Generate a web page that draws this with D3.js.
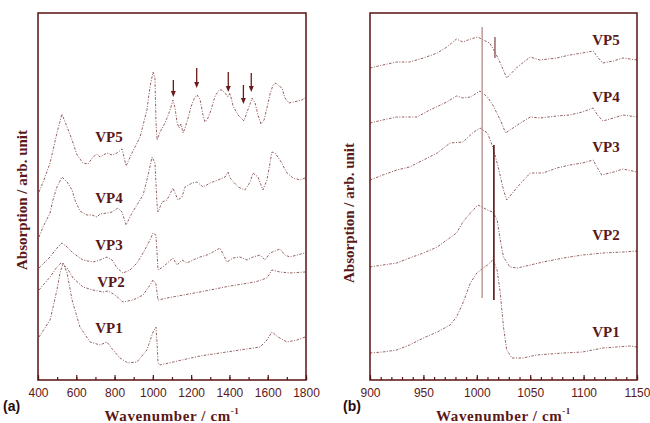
<!DOCTYPE html>
<html><head><meta charset="utf-8">
<script src="https://cdn.jsdelivr.net/npm/d3@7"></script>
<style>
html,body{margin:0;padding:0;background:#fff;}
svg{display:block;}
</style>
</head><body>
<svg id="chart" width="650" height="423"></svg>
<script>
// ---------- DATA ----------
const seriesNames = ["VP1", "VP2", "VP3", "VP4", "VP5"];

// Panel (a): [wavenumber, absorption (arb.)]
const aVP5 = [[405,18.8],[431,20.0],[463,21.7],[499,24.7],[525,26.6],[552,25.3],[578,24.0],[604,22.5],[635,21.7],[661,21.6],[687,22.3],[708,22.6],[724,22.3],[760,22.7],[787,22.5],[813,22.7],[839,23.1],[860,21.4],[891,22.7],[933,24.3],[969,27.0],[985,29.3],[1001,30.8],[1011,30.2],[1016,26.0],[1022,24.0],[1037,24.8],[1053,25.3],[1074,26.2],[1090,27.0],[1105,28.0],[1116,27.2],[1126,25.8],[1137,25.2],[1147,25.6],[1158,24.7],[1168,25.2],[1184,26.2],[1199,27.3],[1215,28.1],[1231,28.5],[1246,28.1],[1262,26.5],[1272,25.8],[1288,26.2],[1304,27.0],[1325,28.4],[1346,29.0],[1361,29.0],[1377,28.7],[1393,28.3],[1403,28.7],[1419,27.4],[1445,26.5],[1466,26.1],[1476,25.9],[1492,26.8],[1508,27.6],[1518,28.2],[1534,27.7],[1549,26.5],[1565,25.6],[1581,26.0],[1596,27.2],[1612,28.6],[1628,29.5],[1643,29.7],[1659,29.4],[1675,29.2],[1690,28.2],[1711,27.7],[1732,27.8],[1758,27.9],[1779,28.0],[1800,28.3]];
const aVP4 = [[405,14.3],[426,15.3],[463,16.7],[478,18.0],[499,19.3],[525,20.3],[552,19.8],[578,19.0],[593,18.0],[619,16.9],[656,16.5],[682,16.5],[708,16.3],[724,16.6],[760,16.7],[787,16.8],[818,17.2],[839,16.8],[860,15.5],[891,16.7],[917,17.5],[949,18.5],[969,20.0],[996,22.3],[1011,21.7],[1022,17.5],[1027,16.8],[1048,17.8],[1074,18.0],[1105,19.2],[1116,18.7],[1131,18.0],[1152,18.3],[1168,19.3],[1205,19.7],[1231,19.8],[1262,19.3],[1299,19.7],[1340,20.0],[1377,20.3],[1393,20.8],[1403,20.2],[1445,19.3],[1481,19.0],[1508,19.8],[1523,20.7],[1549,20.3],[1575,19.0],[1596,20.0],[1622,22.8],[1638,22.7],[1664,22.0],[1701,20.7],[1732,20.2],[1769,20.0],[1795,20.2]];
const aVP3 = [[405,11.2],[463,12.3],[499,13.2],[525,13.7],[552,13.3],[583,12.7],[635,12.0],[687,11.8],[724,12.0],[760,12.3],[787,12.0],[813,11.2],[844,10.7],[881,11.0],[917,11.7],[949,12.7],[985,14.0],[1001,14.7],[1016,14.5],[1022,12.7],[1027,11.0],[1053,11.3],[1105,12.2],[1126,11.5],[1152,12.0],[1178,11.7],[1210,12.0],[1246,12.3],[1283,12.5],[1314,12.8],[1351,13.2],[1387,11.8],[1419,12.2],[1455,12.3],[1492,12.0],[1523,12.3],[1560,12.5],[1586,12.0],[1612,12.7],[1664,13.1],[1690,12.5],[1716,12.3],[1753,12.5],[1795,12.7]];
const aVP2 = [[405,9.0],[463,10.3],[499,11.3],[520,11.7],[552,11.2],[583,10.2],[635,9.3],[687,9.0],[740,8.8],[766,8.9],[802,8.5],[844,7.8],[896,8.0],[949,8.5],[985,9.5],[1001,10.0],[1016,9.6],[1027,8.0],[1074,8.2],[1246,8.8],[1403,9.4],[1534,9.8],[1596,10.2],[1622,11.0],[1664,10.8],[1716,10.7],[1795,10.8]];
const aVP1 = [[405,4.3],[463,6.0],[499,9.0],[515,10.7],[531,11.7],[552,10.7],[578,8.0],[619,5.3],[672,3.8],[724,3.5],[760,3.8],[792,3.0],[828,2.2],[870,1.7],[917,1.8],[969,3.0],[1001,4.8],[1016,5.3],[1022,3.7],[1027,1.7],[1037,1.5],[1246,2.4],[1455,3.0],[1560,3.3],[1596,4.0],[1622,4.8],[1654,4.3],[1701,3.8],[1753,4.0],[1795,4.3]];

// Panel (b)
const bVP5 = [[900,31.2],[912,31.5],[925,31.8],[937,31.8],[950,32.2],[963,32.7],[972,33.3],[981,34.1],[987,33.8],[994,34.1],[1001,34.3],[1006,34.0],[1012,33.7],[1017,32.8],[1022,31.7],[1028,30.2],[1038,31.3],[1050,32.3],[1059,32.0],[1075,32.2],[1087,32.5],[1099,32.7],[1109,32.9],[1113,32.3],[1118,31.7],[1128,31.9],[1137,32.2],[1150,32.0]];
const bVP4 = [[900,25.7],[912,26.0],[925,26.3],[944,26.3],[956,27.0],[972,27.8],[981,28.4],[987,28.2],[994,28.3],[1003,28.9],[1010,28.3],[1015,27.5],[1022,26.0],[1027,24.7],[1038,25.5],[1050,26.3],[1059,26.2],[1075,26.4],[1087,26.5],[1099,26.8],[1109,27.2],[1113,26.5],[1118,25.9],[1128,26.2],[1137,26.5],[1150,26.3]];
const bVP3 = [[900,20.0],[912,20.5],[925,21.0],[937,21.3],[950,22.0],[963,22.7],[975,23.7],[987,23.8],[996,24.7],[1003,25.2],[1010,24.7],[1015,23.3],[1020,21.3],[1025,19.0],[1028,18.0],[1038,19.3],[1050,20.7],[1062,20.7],[1075,21.2],[1087,21.5],[1099,21.7],[1109,22.0],[1113,21.2],[1117,20.5],[1128,20.8],[1137,21.1],[1150,20.8]];
const bVP2 = [[900,11.3],[912,11.5],[925,11.7],[937,12.2],[950,12.7],[963,13.3],[972,14.0],[981,14.7],[987,15.8],[994,16.7],[1001,17.5],[1010,17.0],[1015,16.8],[1019,16.0],[1022,14.0],[1025,12.3],[1031,11.3],[1038,11.2],[1050,11.5],[1062,11.8],[1081,12.2],[1099,12.5],[1118,12.7],[1137,12.8],[1150,12.9]];
const bVP1 = [[900,2.7],[912,2.8],[925,3.0],[937,3.5],[950,4.2],[963,4.8],[975,5.5],[981,6.3],[987,7.7],[994,9.7],[1000,10.7],[1006,11.2],[1010,11.5],[1015,12.0],[1019,11.0],[1022,8.7],[1025,5.3],[1028,3.0],[1033,2.2],[1043,2.2],[1056,2.5],[1081,2.7],[1099,2.8],[1118,3.2],[1131,3.3],[1143,3.4],[1150,3.3]];

// label positions (wavenumber, absorption) for the VP names
const aLabels = [["VP5",771,23.8],["VP4",771,17.7],["VP3",771,13.0],["VP2",781,9.3],["VP1",771,4.7]];
const bLabels = [["VP5",1108,33.5],["VP4",1108,27.8],["VP3",1108,22.8],["VP2",1108,14.0],["VP1",1108,4.3]];

// arrows in panel (a): [wavenumber, from, to]
const arrowsA = [[1107,30.0,28.3],[1229,31.2,29.2],[1394,30.8,28.8],[1473,29.5,27.6],[1514,30.7,28.8]];
// marker lines in panel (b): [wavenumber, from, to, kind]
const markersB = [[1005,35.3,8.2,"light"],[1016,23.5,8.0,"dark"],[1017,34.3,32.2,"mid"]];

const ticksA = [400,600,800,1000,1200,1400,1600,1800];
const minorA = d3.range(400,1801,100);
const ticksB = [900,950,1000,1050,1100,1150];
const minorB = d3.range(900,1151,10);

// ---------- DRAW ----------
const svg = d3.select("#chart");
const frameCol = "#5a1212";
const textCol = "#5a1818";
const lineCol = "#94605f";

const panels = [
  {id:"a", x0:38, x1:306, dom:[400,1800], data:[aVP1,aVP2,aVP3,aVP4,aVP5], labels:aLabels, ticks:ticksA, minor:minorA, tag:"(a)", tagX:3, ylabX:24, ylabY:200},
  {id:"b", x0:370, x1:637, dom:[900,1150], data:[bVP1,bVP2,bVP3,bVP4,bVP5], labels:bLabels, ticks:ticksB, minor:minorB, tag:"(b)", tagX:343, ylabX:351, ylabY:213}
];
const yTop = 13, yBot = 380;
const y = d3.scaleLinear().domain([0,36.7]).range([yBot,yTop]);

panels.forEach(p=>{
  const x = d3.scaleLinear().domain(p.dom).range([p.x0,p.x1]);
  p.x = x;
  const g = svg.append("g");
  const clipId = "clip"+p.id;
  svg.append("clipPath").attr("id",clipId).append("rect")
    .attr("x",p.x0).attr("y",yTop).attr("width",p.x1-p.x0).attr("height",yBot-yTop);

  const line = d3.line().x(d=>x(d[0])).y(d=>y(d[1]));
  g.append("g").attr("clip-path",`url(#${clipId})`).selectAll("path").data(p.data).join("path")
    .attr("d",line).attr("fill","none").attr("stroke",lineCol)
    .attr("stroke-width",1).attr("stroke-dasharray","2.5,1.5,1,1.5");

  // minor ticks
  g.append("g").attr("transform",`translate(0,${yBot})`)
    .call(d3.axisBottom(x).tickValues(p.minor).tickSize(-3).tickFormat(""))
    .call(a=>{a.select(".domain").remove(); a.selectAll("line").attr("stroke",frameCol).attr("stroke-width",1.2);});
  // major ticks
  g.append("g").attr("transform",`translate(0,${yBot})`)
    .call(d3.axisBottom(x).tickValues(p.ticks).tickSize(-5).tickPadding(8).tickFormat(d3.format("d")))
    .call(a=>{a.select(".domain").remove();
      a.selectAll("line").attr("stroke",frameCol).attr("stroke-width",1.2);
      a.selectAll("text").attr("fill",textCol).attr("font-family","Liberation Sans, Arial, sans-serif").attr("font-size",12);});

  // frame
  g.append("rect").attr("x",p.x0).attr("y",yTop).attr("width",p.x1-p.x0).attr("height",yBot-yTop)
    .attr("fill","none").attr("stroke",frameCol).attr("stroke-width",1.5);

  // labels VP
  g.selectAll("text.vp").data(p.labels).join("text").attr("class","vp")
    .attr("x",d=>x(d[1])).attr("y",d=>y(d[2])).attr("text-anchor", p.id==="a" ? "middle" : "start")
    .attr("font-family","Liberation Serif, Times New Roman, serif").attr("font-weight","bold")
    .attr("font-size",15).attr("fill",textCol).text(d=>d[0]);

  // axis titles
  g.append("text").attr("x",(p.x0+p.x1)/2).attr("y",421).attr("text-anchor","middle")
    .attr("font-family","Liberation Serif, Times New Roman, serif").attr("font-weight","bold")
    .attr("font-size",15).attr("letter-spacing",0.6).attr("fill",textCol)
    .text("Wavenumber / cm").append("tspan").attr("dy",-7).attr("font-size",9).text("-1");
  g.append("text").attr("transform",`translate(${p.ylabX},${p.ylabY}) rotate(-90)`)
    .attr("text-anchor","middle").attr("dominant-baseline","middle")
    .attr("font-family","Liberation Serif, Times New Roman, serif").attr("font-weight","bold")
    .attr("font-size",15).attr("fill",textCol).text("Absorption / arb. unit");
  g.append("text").attr("x",p.tagX).attr("y",411)
    .attr("font-family","Liberation Sans, Arial, sans-serif").attr("font-weight","bold")
    .attr("font-size",14).attr("fill","#2a0a0a").text(p.tag);
});

// arrows panel (a)
const xa = panels[0].x;
const ag = svg.append("g");
arrowsA.forEach(d=>{
  const ax = xa(d[0]), yt = y(d[1]), yb = y(d[2]);
  ag.append("line").attr("x1",ax).attr("x2",ax).attr("y1",yt).attr("y2",yb-4)
    .attr("stroke","#6a1a1a").attr("stroke-width",1.3);
  ag.append("path").attr("d",`M${ax-2.5},${yb-6} L${ax+2.5},${yb-6} L${ax},${yb} Z`).attr("fill","#6a1a1a");
});

// marker lines panel (b)
const xb = panels[1].x;
const colMap = {light:"#b58a8a", dark:"#5a1010", mid:"#8a5050"};
svg.append("g").selectAll("line").data(markersB).join("line")
  .attr("x1",d=>xb(d[0])).attr("x2",d=>xb(d[0]))
  .attr("y1",d=>y(d[1])).attr("y2",d=>y(d[2]))
  .attr("stroke",d=>colMap[d[3]]).attr("stroke-width",d=>d[3]==="dark"?1.6:1.3);
</script>
</body></html>
